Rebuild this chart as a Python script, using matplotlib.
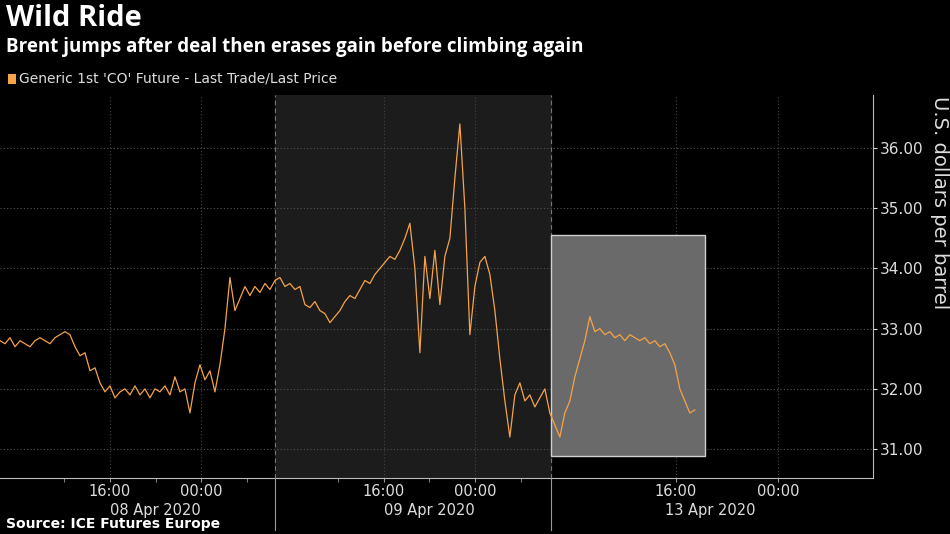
import numpy as np
import matplotlib
matplotlib.use("Agg")
import matplotlib.pyplot as plt
from matplotlib.lines import Line2D

prices = [32.8,32.75,32.85,32.7,32.8,32.75,32.7,32.8,32.85,32.8,32.75,32.85,32.9,32.95,32.9,
          32.7,32.55,32.6,32.3,32.35,32.1,31.95,32.05,31.85,31.95,32.0,31.9,
          32.05,31.9,32.0,31.85,32.0,31.95,32.05,31.9,32.2,31.95,32.0,31.6,32.1,32.4,32.15,32.3,31.95,32.4,33.0,
          33.85,33.3,33.5,33.7,33.55,33.7,33.6,33.75,33.65,
          33.8,33.85,33.7,33.75,33.65,33.7,33.4,33.35,33.45,33.3,33.25,33.1,33.2,33.3,
          33.45,33.55,33.5,33.65,33.8,33.75,33.9,34.0,34.1,34.2,34.15,34.3,34.5,
          34.75,34.0,32.6,34.2,33.5,34.3,33.4,34.2,34.5,
          35.5,36.4,35.0,32.9,33.7,34.1,34.2,33.9,33.3,32.5,31.8,
          31.2,31.9,32.1,31.8,31.9,31.7,31.85,32.0,31.6,
          31.4,31.2,31.6,31.8,32.2,32.5,32.8,33.2,32.95,33.0,
          32.9,32.95,32.85,32.9,32.8,32.9,32.85,32.8,32.85,32.75,32.8,32.7,32.75,32.6,32.4,32.0,31.8,31.6,31.65]
times = np.arange(len(prices)) * 0.4386  # chart hours

tick_pos = [9.65, 17.63, 33.68, 41.67, 59.3, 68.25]
tick_labels = ["16:00", "00:00", "16:00", "00:00", "16:00", "00:00"]
minor_pos = [5.65, 13.65, 21.65, 29.68, 37.68, 45.68]
day_seps = [24.12, 48.33]
date_pos = [13.6, 37.7, 62.3]
date_labels = ["08 Apr 2020", "09 Apr 2020", "13 Apr 2020"]
yticks = [31, 32, 33, 34, 35, 36]

fig = plt.figure(figsize=(9.5, 5.34), dpi=100, facecolor="black")
ax = fig.add_axes([0, (534-478)/534, 873/950, (478-95)/534], facecolor="black")
ax.set_xlim(0, 76.6)
ax.set_ylim(30.52, 36.88)

ax.axvspan(day_seps[0], day_seps[1], color="#1c1c1c", zorder=0)
ax.add_patch(plt.Rectangle((48.33, 30.88), 61.84-48.33, 34.55-30.88,
                           facecolor="#6a6a6a", edgecolor="#cfcfcf", lw=1, zorder=1))
for y in yticks:
    ax.axhline(y, color="#555555", ls=(0, (1, 2)), lw=0.8, zorder=0.5)
for x in tick_pos:
    ax.axvline(x, color="#444444", ls=(0, (1, 2)), lw=0.8, zorder=0.5)
for x in day_seps:
    ax.axvline(x, color="#777777", ls=(0, (4, 3)), lw=0.8, zorder=0.5)

ax.plot(times, prices, color="#f5a34a", lw=0.9, zorder=3)

ax.yaxis.tick_right()
ax.set_yticks(yticks)
ax.set_yticklabels([f"{v:.2f}" for v in yticks], color="#dddddd", fontsize=11)
ax.tick_params(axis="y", colors="#dddddd", length=3, pad=2, labelcolor="#dddddd")
ax.set_xticks(tick_pos)
ax.set_xticklabels(tick_labels, color="#dddddd", fontsize=10.5)
ax.tick_params(axis="x", colors="#999999", length=3, pad=1, labelcolor="#dddddd")
ax.set_xticks(minor_pos, minor=True)
ax.tick_params(axis="x", which="minor", length=3, colors="#999999")
for s in ["top", "left"]:
    ax.spines[s].set_visible(False)
ax.spines["bottom"].set_color("#bbbbbb")
ax.spines["right"].set_color("#bbbbbb")
ax.yaxis.set_label_position("right")
ax.set_ylabel("U.S. dollars per barrel", color="#dddddd", fontsize=14, rotation=270, labelpad=18)
ax.yaxis.label.set_position((1, 0.72))

for x, lab in zip(date_pos, date_labels):
    fig.text(x/76.6*873/950, 1-510/534, lab, color="#dddddd", fontsize=10.5, ha="center", va="center")
for x in day_seps:
    xf = x/76.6*873/950
    fig.add_artist(Line2D([xf, xf], [1-530/534, 1-478/534], color="#999999", lw=0.8))

fig.text(0.006, 1-19/534, "Wild Ride", color="white", fontsize=21, fontweight="bold", va="center", family="Open Sans")
fig.text(0.006, 1-47/534, "Brent jumps after deal then erases gain before climbing again", color="white",
         fontsize=13.5, fontweight="bold", va="center", family="Open Sans")
fig.patches.append(plt.Rectangle((8/950, 1-84/534), 8/950, 10/534, transform=fig.transFigure,
                                 facecolor="#f5a34a", figure=fig))
fig.text(19/950, 1-79/534, "Generic 1st 'CO' Future - Last Trade/Last Price", color="#dddddd",
         fontsize=10, va="center")
fig.text(0.006, 1-524/534, "Source: ICE Futures Europe", color="white", fontsize=10, fontweight="bold", va="center")

fig.savefig("out.png", facecolor="black")
